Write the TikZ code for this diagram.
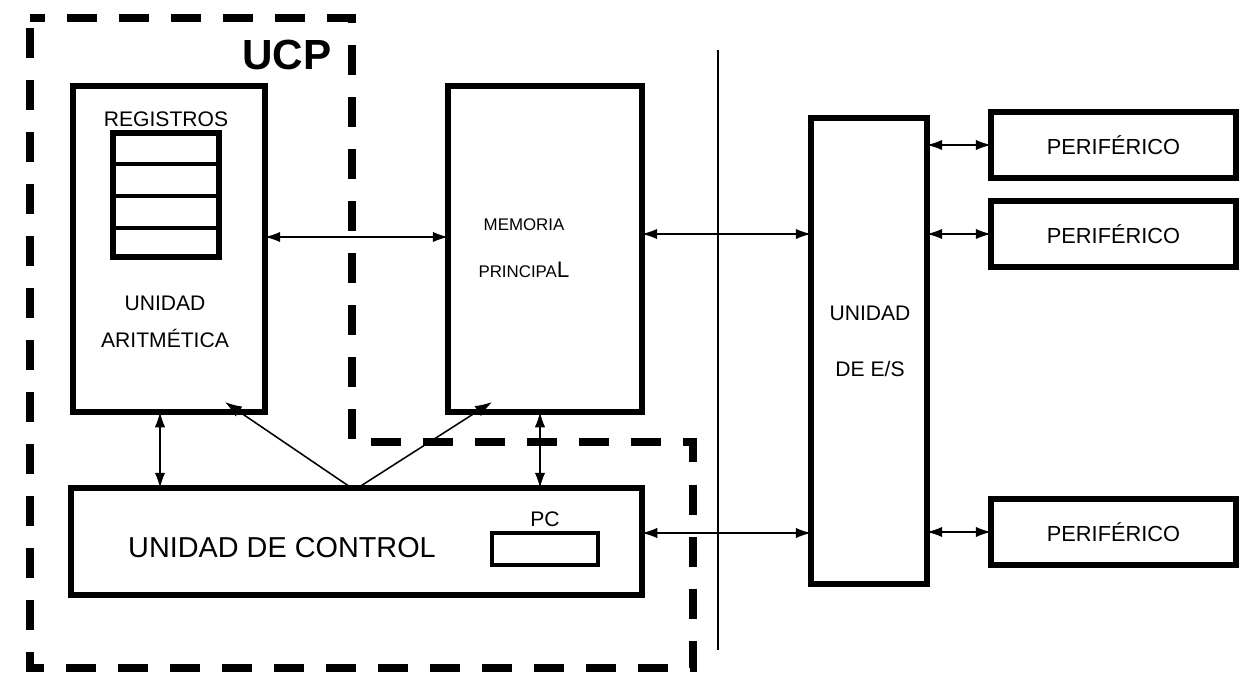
\documentclass[tikz,border=0pt]{standalone}
\usepackage{fontspec}
\setmainfont{Liberation Sans}
\usetikzlibrary{positioning,arrows.meta,calc}

\begin{document}
\begin{tikzpicture}[x=0.025cm, y=-0.025cm,
  box/.style={draw, line width=4.2pt, inner sep=0pt, outer sep=0pt},
  ucpline/.style={line width=5.7pt, dash pattern=on 0.75cm off 0.55cm, dash phase=0.37cm},
  regline/.style={line width=2.2pt},
  lbl/.style={font=\fontsize{15}{26}\selectfont, align=center, inner sep=0pt},
  arr/.style={{Latex[length=3.8mm,width=2.6mm]}-{Latex[length=3.8mm,width=2.6mm]}, line width=1pt},
  sarr/.style={-{Latex[length=4.2mm,width=3mm]}, line width=1.1pt}
]
\useasboundingbox (0,0) rectangle (1242,679);

% UCP boundary
\draw[ucpline] (30,18) -- (352,18) -- (352,442) -- (693,442) -- (693,668) -- (30,668) -- cycle;
\node[font=\fontsize{30}{30}\selectfont\bfseries, inner sep=0pt] (ucp) at (287,55) {UCP};

% boxes
\node[box, minimum width=4.8cm, minimum height=8.15cm] (alu) at (169,249) {};
\node[box, minimum width=4.85cm, minimum height=8.15cm] (mem) at (545,249) {};
\node[box, minimum width=14.275cm, minimum height=2.675cm] (ctrl) at (356.5,541.5) {};
\node[box, minimum width=2.9cm, minimum height=11.65cm] (es) at (869,351) {};

% registers
\node[box, minimum width=2.65cm, minimum height=3.1cm] (regs) at (166,195) {};
\foreach \y in {164,196,228}
  \draw[regline] ($(regs.west)+(0,\y-195)$) -- ($(regs.east)+(0,\y-195)$);
\node[lbl, above=0.15cm of regs] (reglbl) {REGISTROS};
\node[lbl] (alulbl) at (165,322) {UNIDAD\\ARITMÉTICA};

\node[lbl, font=\fontsize{12}{33}\selectfont] (memlbl) at (524,248) {MEMORIA\\PRINCIPA{\fontsize{16}{16}\selectfont L}};

% control unit
\node[lbl, font=\fontsize{20.5}{24}\selectfont] (ctrllbl) at (282,548) {UNIDAD DE CONTROL};
\node[box, line width=3.5pt, minimum width=2.65cm, minimum height=0.8cm] (pc) at (545,549) {};
\node[lbl, above=0.15cm of pc] (pclbl) {PC};

\node[lbl, font=\fontsize{15}{40}\selectfont] (eslbl) at (870,341) {UNIDAD\\DE E/S};

% peripherals
\foreach \n/\y in {p1/145, p2/234, p3/532} {
  \node[box, minimum width=6.125cm, minimum height=1.65cm] (\n) at (1113.5,\y) {};
  \node[lbl, font=\fontsize{15.5}{18}\selectfont] at (\n) {PERIFÉRICO};
  \draw[arr] (es.east |- \n.west) -- (\n.west);
}

% divider
\draw[line width=0.8pt] (718,50) -- (718,650);

% buses
\draw[arr] ($(alu.east)+(0,-12)$) coordinate (a1) -- (a1 -| mem.west);
\draw[arr] ($(mem.east)+(0,-15)$) coordinate (m1) -- (m1 -| es.west);
\draw[arr] ($(ctrl.east)+(0,-8.5)$) coordinate (c1) -- (c1 -| es.west);
\draw[arr] ($(alu.south)+(-9,0)$) coordinate (v1) -- (v1 |- ctrl.north);
\draw[arr] ($(mem.south)+(-5,0)$) coordinate (v2) -- (v2 |- ctrl.north);

% control signals
\coordinate (apex) at ($(ctrl.north)+(-2,2)$);
\draw[sarr] (apex) -- ($(alu.south east)+(-40,-10)$);
\draw[sarr] (apex) -- ($(mem.south west)+(44,-10)$);

\end{tikzpicture}
\end{document}
